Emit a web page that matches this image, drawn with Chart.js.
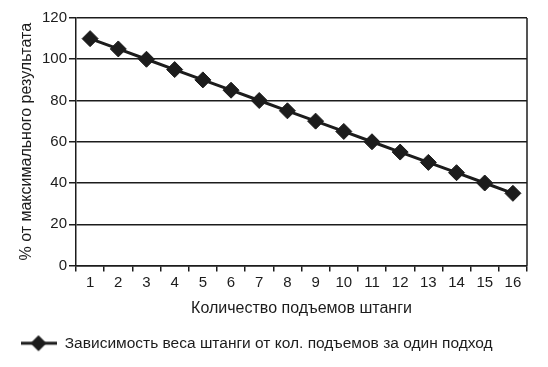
<!DOCTYPE html>
<html>
<head>
<meta charset="utf-8">
<script src="https://cdn.jsdelivr.net/npm/chart.js@4/dist/chart.umd.min.js"></script>
<style>
  html, body { margin: 0; padding: 0; background: #fff; }
  #wrap { width: 548px; height: 367px; }
</style>
</head>
<body>
<div id="wrap"><canvas id="chart"></canvas></div>
<script>
const categories = ['1', '2', '3', '4', '5', '6', '7', '8', '9', '10', '11', '12', '13', '14', '15', '16'];
const weightPct = [110, 105, 100, 95, 90, 85, 80, 75, 70, 65, 60, 55, 50, 45, 40, 35];
const yTicks = [0, 20, 40, 60, 80, 100, 120];

const seriesName = 'Зависимость веса штанги от кол. подъемов за один подход';
const xTitle = 'Количество подъемов штанги';
const yTitle = '% от максимального результата';

const ink = '#1c1c1c';
const fontFamily = '"Liberation Sans", Arial, sans-serif';

// legend symbol: short line with a diamond on it
const legendMark = document.createElement('canvas');
legendMark.width = 36; legendMark.height = 18;
(function () {
    const g = legendMark.getContext('2d');
    g.strokeStyle = ink; g.lineWidth = 3;
    g.beginPath(); g.moveTo(0, 9); g.lineTo(36, 9); g.stroke();
    g.fillStyle = ink;
    g.beginPath(); g.moveTo(18, 1); g.lineTo(26, 9); g.lineTo(18, 17); g.lineTo(10, 9); g.closePath(); g.fill();
})();

const frame = {
    id: 'frame',
    afterDatasetsDraw(chart) {
        const a = chart.chartArea, c = chart.ctx;
        c.save();
        c.strokeStyle = ink; c.lineWidth = 1.5;
        c.beginPath();
        c.moveTo(a.right, a.top); c.lineTo(a.right, a.bottom);
        c.stroke();
        c.restore();
    }
};

new Chart(document.getElementById('chart'), {
    type: 'line',
    data: {
        labels: categories,
        datasets: [{
            label: seriesName,
            data: weightPct,
            borderColor: ink,
            backgroundColor: ink,
            borderWidth: 3,
            pointStyle: 'rectRot',
            pointRadius: 8,
            pointBorderWidth: 1,
            pointBackgroundColor: ink,
            pointBorderColor: ink,
            tension: 0
        }]
    },
    options: {
        responsive: true,
        maintainAspectRatio: false,
        animation: false,
        layout: { padding: { top: 18, right: 21, left: 0, bottom: 6 } },
        plugins: {
            tooltip: { enabled: false },
            legend: {
                display: true,
                position: 'bottom',
                align: 'start',
                labels: {
                    usePointStyle: true,
                    pointStyle: legendMark,
                    pointStyleWidth: 37,
                    padding: 20,
                    color: ink,
                    font: { family: fontFamily, size: 15.5 }
                }
            }
        },
        scales: {
            x: {
                offset: true,
                grid: { display: true, offset: true, drawOnChartArea: false, drawTicks: true, tickLength: 6, color: ink, lineWidth: 1.5 },
                border: { display: true, color: ink, width: 1.5 },
                ticks: { color: ink, padding: 2, maxRotation: 0, autoSkip: false, font: { family: fontFamily, size: 15 } },
                title: { display: true, text: xTitle, color: ink, padding: { top: 4, bottom: -3 }, font: { family: fontFamily, size: 16 } },
                afterFit(scale) { scale.height = 50; }
            },
            y: {
                min: 0,
                max: 120,
                afterBuildTicks(scale) { scale.ticks = yTicks.map(v => ({ value: v })); },
                grid: { color: ink, lineWidth: 1.5, drawTicks: true, tickLength: 7 },
                border: { display: true, color: ink, width: 1.5 },
                ticks: { color: ink, padding: 2, font: { family: fontFamily, size: 15 } },
                title: { display: true, text: yTitle, color: ink, padding: { top: 17, bottom: 0 }, font: { family: fontFamily, size: 16 } },
                afterFit(scale) { scale.width = 76; }
            }
        }
    },
    plugins: [frame]
});
</script>
</body>
</html>
